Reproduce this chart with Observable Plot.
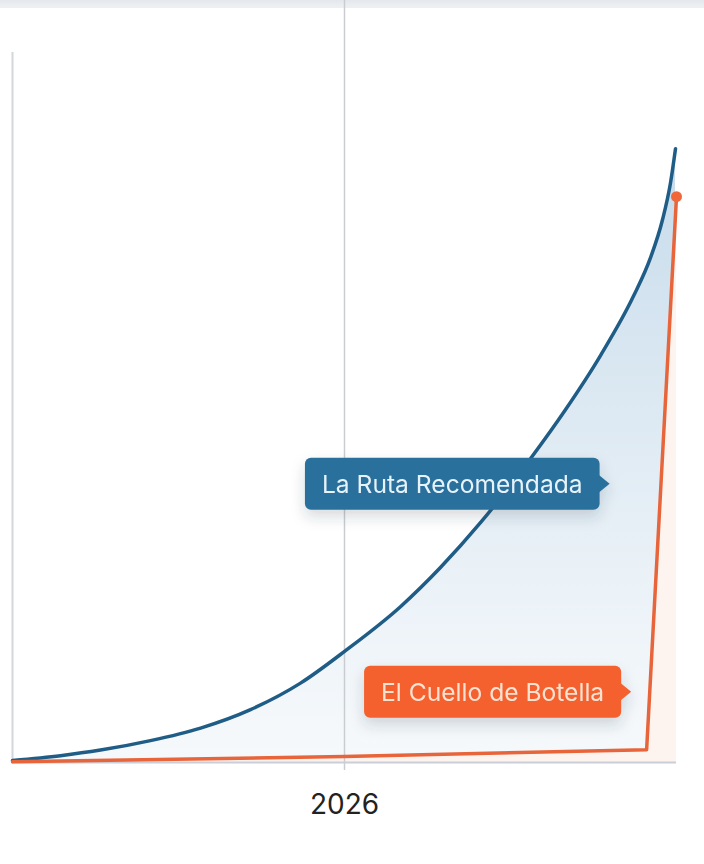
<!DOCTYPE html>
<html><head><meta charset="utf-8">
<script src="https://cdn.jsdelivr.net/npm/d3@7"></script>
<script src="https://cdn.jsdelivr.net/npm/@observablehq/plot@0.6"></script>
<style>
html,body{margin:0;padding:0;background:#fff;}
body{position:relative;width:704px;height:864px;overflow:hidden;font-family:Inter,"Noto Sans",sans-serif;}
#band{position:absolute;left:0;top:0;width:704px;height:8px;background:linear-gradient(#e4e8ec,#eef1f4);z-index:0}
#chart{position:absolute;left:0;top:0;z-index:1}
</style></head><body><div id="band"></div><div id="chart"></div>
<script>
// Series: "La Ruta Recomendada" (blue, exponential growth)
const blueYears  = [2024.000, 2024.289, 2024.530, 2024.831, 2025.133, 2025.434, 2025.735, 2026.006, 2026.337, 2026.578,
                    2026.819, 2027.120, 2027.331, 2027.542, 2027.741, 2027.843, 2027.916, 2027.964, 2027.994];
const blueValues = [0.28, 0.96, 1.75, 3.08, 4.85, 7.45, 11.18, 15.75, 21.94, 27.46,
                    33.77, 42.79, 49.69, 57.32, 65.69, 71.07, 76.48, 81.66, 86.45];
// Series: "El Cuello de Botella" (orange, flat then sudden jump)
const orangeYears  = [2024, 2026, 2027.82, 2028];
const orangeValues = [0.1, 0.85, 1.8, 79.7];
// Annotation labels (anchored at data coordinates)
const labelTexts  = ["La Ruta Recomendada", "El Cuello de Botella"];
const labelYears  = [2027.6, 2027.73];
const labelValues = [39.2, 9.9];
// Tick labels
const tickYears = [2026];

const BLUE = "#1f5d87", ORANGE = "#e8643a";
const blue = blueYears.map((x, i) => ({x, y: blueValues[i]}));
const orange = orangeYears.map((x, i) => ({x, y: orangeValues[i]}));

const chart = Plot.plot({
  width: 704, height: 864,
  marginTop: 52, marginBottom: 102, marginLeft: 12, marginRight: 28,
  style: {background: "transparent", fontFamily: "Inter, sans-serif", overflow: "visible"},
  x: {domain: [2024, 2028], axis: null},
  y: {domain: [0, 100], axis: null},
  marks: [
    Plot.areaY(blue, {x: "x", y: "y", curve: "monotone-x", fill: "url(#blueGrad)"}),
    Plot.areaY(orange, {x: "x", y: "y", curve: "linear", fill: "#fdf4f0"}),
    Plot.ruleX(tickYears, {stroke: "#c9cdd2", strokeWidth: 1.5, insetTop: -52, insetBottom: -8}),
    Plot.ruleX([2024], {stroke: "#d3d6da", strokeWidth: 2}),
    Plot.ruleY([0], {stroke: "#c9ced8", strokeWidth: 2}),
    Plot.line(blue, {x: "x", y: "y", curve: "monotone-x", stroke: BLUE, strokeWidth: 3.5}),
    Plot.line(orange, {x: "x", y: "y", curve: "linear", stroke: ORANGE, strokeWidth: 3.5, strokeLinejoin: "round"}),
    Plot.dot(orange.slice(-1), {x: "x", y: "y", r: 5.5, fill: "#f0673a"}),
    Plot.text(tickYears, {x: d => d, frameAnchor: "bottom", dy: 51, text: d => String(d), fontSize: 28, fill: "#222"})
  ]
});
document.getElementById("chart").appendChild(chart);

const svg = d3.select(chart);
const defs = svg.append("defs");
const g = defs.append("linearGradient").attr("id", "blueGrad").attr("x1", 0).attr("y1", 0).attr("x2", 0).attr("y2", 1);
g.append("stop").attr("offset", "0%").attr("stop-color", "#c3d9ea").attr("stop-opacity", 0.95);
g.append("stop").attr("offset", "50%").attr("stop-color", "#dbe8f2").attr("stop-opacity", 0.85);
g.append("stop").attr("offset", "100%").attr("stop-color", "#f0f5f9").attr("stop-opacity", 0.6);
const f = defs.append("filter").attr("id", "shadow").attr("x", "-20%").attr("y", "-40%").attr("width", "140%").attr("height", "200%");
f.append("feDropShadow").attr("dx", 0).attr("dy", 7).attr("stdDeviation", 7).attr("flood-color", "#33404d").attr("flood-opacity", 0.18);

const xs = chart.scale("x"), ys = chart.scale("y");
const boxStyles = [
  {fill: "#2b6f9d", text: "#e6f3fb"},
  {fill: "#f4612f", text: "#fde2d2"}
];
labelTexts.forEach((t, i) => {
  const tipX = xs.apply(labelYears[i]), tipY = ys.apply(labelValues[i]);
  const boxR = tipX - 10, h = 52, padL = 17, padR = 17;
  const grp = svg.append("g").attr("filter", "url(#shadow)");
  const rect = grp.append("rect");
  const tri = grp.append("path");
  const txt = grp.append("text")
    .attr("x", boxR - padR).attr("y", tipY)
    .attr("text-anchor", "end").attr("dominant-baseline", "central")
    .attr("font-size", 24.6).attr("font-family", "Inter, sans-serif")
    .attr("fill", boxStyles[i].text).text(t);
  const bb = txt.node().getBBox();
  rect.attr("x", bb.x - padL).attr("y", tipY - h / 2)
    .attr("width", boxR - (bb.x - padL)).attr("height", h)
    .attr("rx", 6).attr("fill", boxStyles[i].fill);
  tri.attr("d", `M${boxR - 1},${tipY - 9}L${tipX},${tipY}L${boxR - 1},${tipY + 9}Z`).attr("fill", boxStyles[i].fill);
  txt.raise();
});
</script></body></html>
